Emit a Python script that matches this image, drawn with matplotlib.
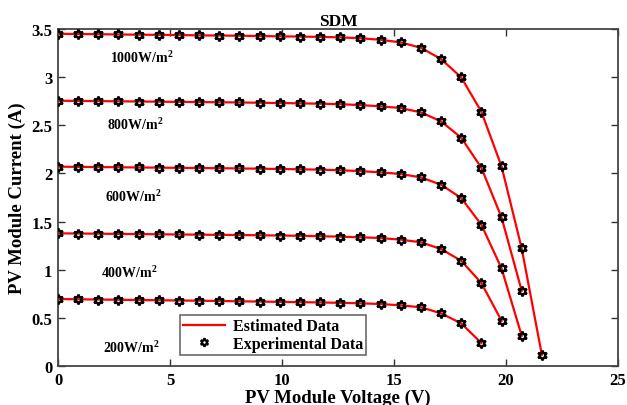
import numpy as np
import matplotlib
matplotlib.use("Agg")
import matplotlib.pyplot as plt
from matplotlib.lines import Line2D

# ---- data ----
voltage_step = 0.9
v_1000 = [round(i * voltage_step, 1) for i in range(25)]
v_800 = v_1000[:24]
v_600 = v_1000[:24]
v_400 = v_1000[:23]
v_200 = v_1000[:22]

i_1000 = [3.450, 3.448, 3.446, 3.443, 3.441, 3.439, 3.437, 3.434, 3.432, 3.430,
          3.427, 3.424, 3.421, 3.418, 3.413, 3.404, 3.388, 3.361, 3.305, 3.188,
          2.998, 2.641, 2.074, 1.222, 0.117]
i_800 = [2.755, 2.753, 2.751, 2.749, 2.747, 2.745, 2.743, 2.741, 2.739, 2.737,
         2.734, 2.731, 2.728, 2.724, 2.719, 2.710, 2.697, 2.679, 2.634, 2.541,
         2.371, 2.059, 1.544, 0.782]
i_600 = [2.070, 2.068, 2.066, 2.064, 2.062, 2.060, 2.058, 2.056, 2.054, 2.052,
         2.049, 2.046, 2.043, 2.039, 2.033, 2.024, 2.011, 1.994, 1.959, 1.883,
         1.745, 1.467, 1.014, 0.315]
i_400 = [1.378, 1.376, 1.374, 1.372, 1.370, 1.368, 1.366, 1.364, 1.362, 1.360,
         1.358, 1.355, 1.352, 1.348, 1.343, 1.337, 1.329, 1.312, 1.285, 1.215,
         1.093, 0.862, 0.470]
i_200 = [0.696, 0.693, 0.690, 0.688, 0.685, 0.683, 0.680, 0.678, 0.675, 0.672,
         0.669, 0.666, 0.663, 0.660, 0.656, 0.651, 0.644, 0.630, 0.610, 0.547,
         0.443, 0.239]

curves = [(v_1000, i_1000), (v_800, i_800), (v_600, i_600), (v_400, i_400), (v_200, i_200)]

irr_labels = ["1000W/m$^{\\mathbf{2}}$", "800W/m$^{\\mathbf{2}}$", "600W/m$^{\\mathbf{2}}$",
              "400W/m$^{\\mathbf{2}}$", "200W/m$^{\\mathbf{2}}$"]
label_x = [2.3, 2.2, 2.1, 1.9, 2.0]
label_y = [3.21, 2.51, 1.77, 0.98, 0.20]

x_ticks = [0, 5, 10, 15, 20, 25]
y_ticks = [0, 0.5, 1, 1.5, 2, 2.5, 3, 3.5]
y_tick_labels = ["0", "0.5", "1", "1.5", "2", "2.5", "3", "3.5"]

# ---- style ----
plt.rcParams['font.family'] = ['Liberation Serif', 'DejaVu Serif']
plt.rcParams['font.weight'] = 'bold'
plt.rcParams['mathtext.fontset'] = 'custom'
plt.rcParams['mathtext.rm'] = 'Liberation Serif:bold'
plt.rcParams['mathtext.bf'] = 'Liberation Serif:bold'
plt.rcParams['mathtext.it'] = 'Liberation Serif:bold'

fig = plt.figure(figsize=(6.27, 4.06), dpi=100)
ax = fig.add_axes([58/627, 39/406, 560/627, 337/406])

marker_style = dict(linestyle='none', marker=(6, 1, 0), markersize=7,
                    markerfacecolor='none', markeredgecolor='black', markeredgewidth=1.7)

for v, cur in curves:
    ax.plot(v, cur, color='red', lw=1.6, zorder=2)
    ax.plot(v, cur, zorder=3, **marker_style)

for t, x, y in zip(irr_labels, label_x, label_y):
    ax.text(x, y, t, fontsize=10, fontweight='bold', va='center', ha='left')

ax.set_xlim(0, 25)
ax.set_ylim(0, 3.5)
ax.set_xticks(x_ticks)
ax.set_yticks(y_ticks)
ax.set_yticklabels(y_tick_labels)
ax.tick_params(direction='in', length=5, width=1, top=True, right=True,
               labelsize=12, colors='#333333', labelcolor='black', pad=4)
for lab in ax.get_xticklabels() + ax.get_yticklabels():
    lab.set_fontweight('bold')
for s in ax.spines.values():
    s.set_linewidth(1.3)
    s.set_color('#444444')

ax.set_xlabel("PV Module Voltage (V)", fontsize=13.5, fontweight='bold', labelpad=1)
ax.set_ylabel("PV Module Current (A)", fontsize=13.5, fontweight='bold', labelpad=4)
ax.set_title("SDM", fontsize=12.5, fontweight='bold', pad=3)

handles = [Line2D([0], [0], color='red', lw=1.6),
           Line2D([0], [0], linestyle='none', marker=(6, 1, 0), markersize=6,
                  markerfacecolor='none', markeredgecolor='black', markeredgewidth=1.6)]
leg = ax.legend(handles, ["Estimated Data", "Experimental Data"], loc='lower left',
                bbox_to_anchor=(122/560, 11/337), fontsize=11.5, frameon=True, fancybox=False,
                edgecolor='#444444', borderpad=0.2, labelspacing=0.1, handlelength=2.6,
                handletextpad=0.5, borderaxespad=0)
leg.get_frame().set_linewidth(1.2)
for t in leg.get_texts():
    t.set_fontweight('bold')

fig.savefig("out.png", dpi=100)
